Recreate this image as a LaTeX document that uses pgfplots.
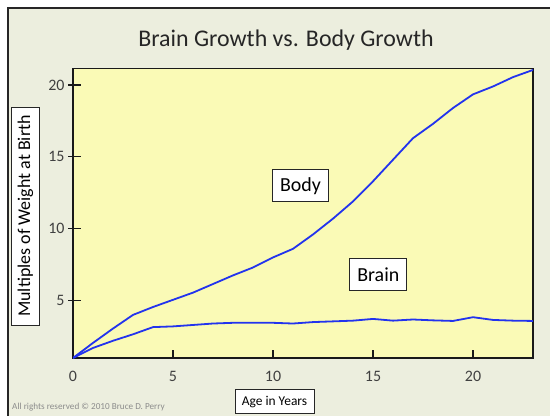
\documentclass[border=0pt]{standalone}
\usepackage{pgfplots}
\pgfplotsset{compat=1.18}
\usepackage{fontspec}
\setmainfont{Carlito}
\definecolor{framebg}{HTML}{ECEEDE}
\definecolor{plotbg}{HTML}{FAFAB6}
\definecolor{lineblue}{HTML}{2233EE}
\definecolor{ticklab}{HTML}{404040}
\begin{document}
\begin{tikzpicture}[x=1bp,y=1bp]
\fill[white] (0,0) rectangle (550,415);
\useasboundingbox (0,0) rectangle (550,415);
\begin{scope}
\clip (0,0) rectangle (550,415);
\filldraw[fill=framebg, draw=black!85, line width=2bp] (8,-20) rectangle (600,407);
\end{scope}
\node[font=\fontsize{24}{24}\selectfont, text=black!85] at (286,375) {Brain Growth vs. Body Growth};
\begin{axis}[
  at={(73bp,57bp)}, anchor=south west,
  width=460bp, height=289.5bp, scale only axis,
  xmin=0, xmax=23, ymin=1, ymax=21.15,
  xtick={0,5,10,15,20}, ytick={5,10,15,20},
  axis line style={line width=1.6bp, black!90},
  axis background/.style={fill=plotbg},
  tick pos=left,
  tick align=inside,
  major tick length=8bp,
  tick style={line width=1.2bp, black!90},
  ytick style={/pgfplots/major tick length=13bp, xshift=-5bp},
  /pgf/number format/assume math mode=true,
  ticklabel style={font=\fontsize{16}{16}\selectfont, text=ticklab},
  xticklabel style={yshift=-10bp},
  yticklabel style={xshift=-5bp},
  clip=true,
]
\addplot[lineblue, line width=1.8bp] coordinates {
(0,1)(1,2.05)(2,3.05)(3,4.0)(4,4.55)(5,5.05)(6,5.55)(7,6.15)(8,6.75)(9,7.3)(10,8.0)(11,8.6)(12,9.6)(13,10.7)(14,11.9)(15,13.3)(16,14.8)(17,16.3)(18,17.3)(19,18.4)(20,19.35)(21,19.9)(22,20.55)(23,21.05)};
\addplot[lineblue, line width=1.8bp] coordinates {
(0,1)(1,1.7)(2,2.2)(3,2.65)(4,3.15)(5,3.2)(6,3.3)(7,3.4)(8,3.45)(9,3.45)(10,3.45)(11,3.4)(12,3.5)(13,3.55)(14,3.6)(15,3.72)(16,3.6)(17,3.68)(18,3.62)(19,3.58)(20,3.84)(21,3.65)(22,3.6)(23,3.58)};
\end{axis}
\node[draw=black!85, line width=1bp, fill=white, minimum width=55.7bp, minimum height=31.7bp, inner sep=0pt, font=\fontsize{20}{20}\selectfont] at (300.5,229.2) {Body};
\node[draw=black!85, line width=1bp, fill=white, minimum width=56.7bp, minimum height=32.4bp, inner sep=0pt, font=\fontsize{20}{20}\selectfont] at (378.3,140.5) {Brain};
\node[draw=black!85, line width=1bp, fill=white, rotate=90, minimum width=218bp, minimum height=27.6bp, inner sep=0pt, font=\fontsize{18}{18}\selectfont] at (25.5,199) {Multiples of Weight at Birth};
\node[draw=black!85, line width=1bp, fill=white, minimum width=79bp, minimum height=24bp, inner sep=0pt, font=\fontsize{13.5}{13.5}\selectfont] at (274.5,13.3) {Age in Years};
\node[anchor=west, inner sep=0pt, text=black!45, font=\fontsize{9.2}{9.2}\selectfont] at (12,8) {All rights reserved © 2010 Bruce D. Perry};
\end{tikzpicture}
\end{document}
